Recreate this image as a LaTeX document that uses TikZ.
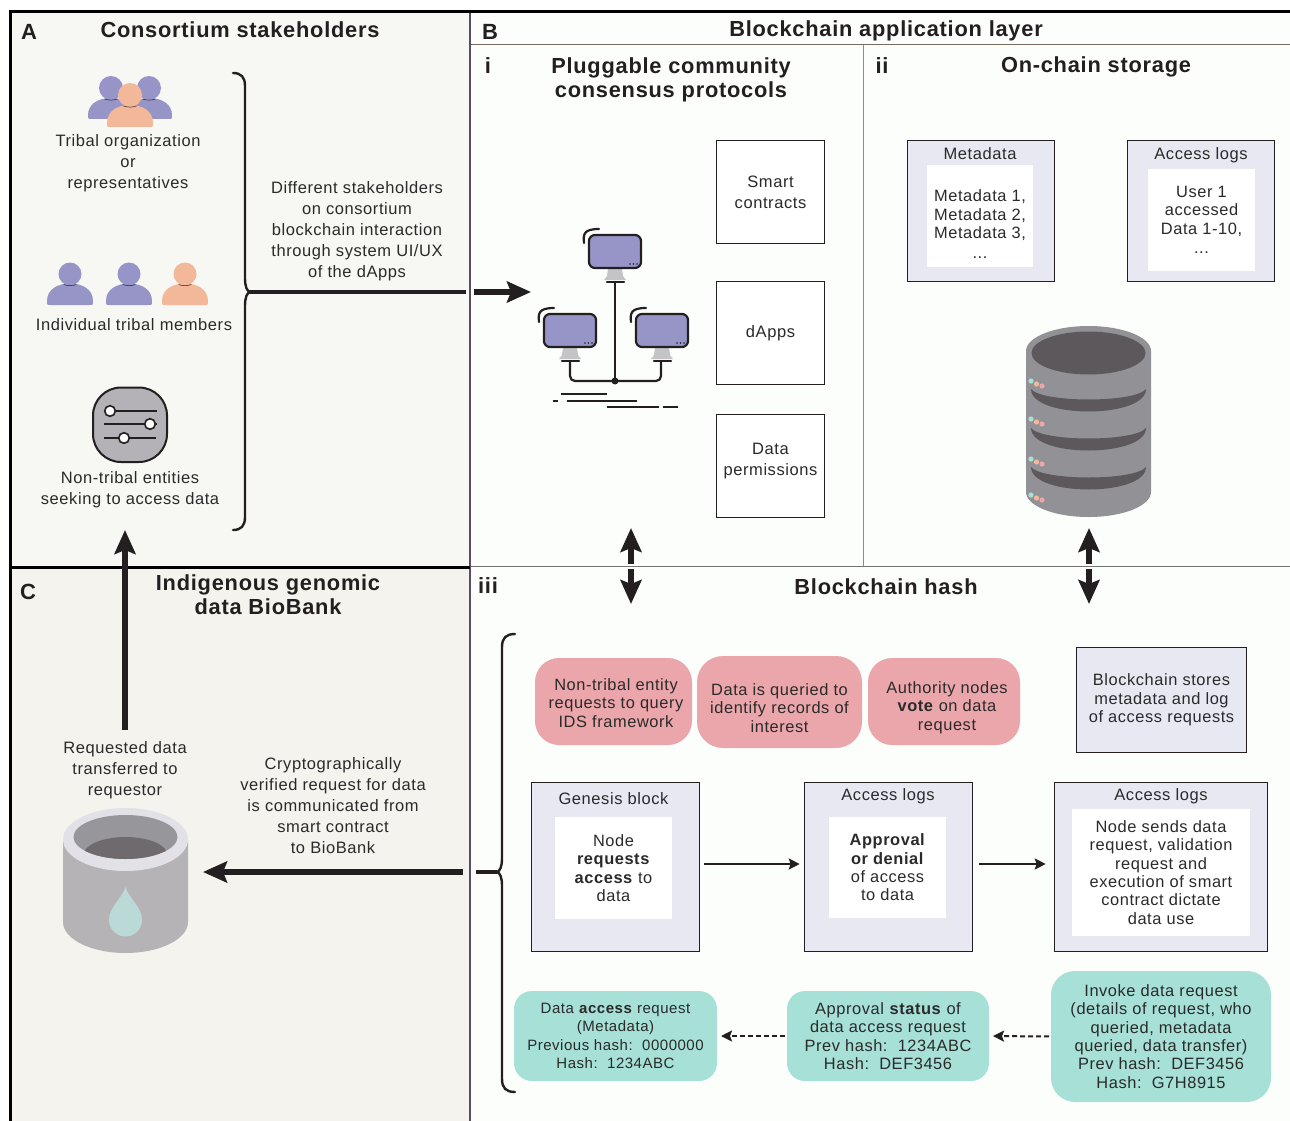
\documentclass[tikz,border=0pt]{standalone}
\usepackage{fontspec}
\setmainfont[LetterSpace=3.5]{Liberation Sans}
\usetikzlibrary{arrows.meta}
\definecolor{panelA}{HTML}{F7F7F3}
\definecolor{panelC}{HTML}{F5F3EE}
\definecolor{panelB}{HTML}{FCFEFC}
\definecolor{lav}{HTML}{E8E8F3}
\definecolor{pinkb}{HTML}{EBA6AC}
\definecolor{tealb}{HTML}{A6E0D6}
\definecolor{purp}{HTML}{9795C8}
\definecolor{orng}{HTML}{F2B899}
\definecolor{ink}{HTML}{231F20}
\definecolor{txt}{HTML}{2A2A2A}
\definecolor{dbbody}{HTML}{929196}
\definecolor{dbdark}{HTML}{5D585B}
\definecolor{sliderg}{HTML}{B4B2B7}
\definecolor{bankbody}{HTML}{B6B3B7}
\definecolor{bankrim}{HTML}{E2E1E8}
\definecolor{bankin}{HTML}{96969B}
\definecolor{bankdark}{HTML}{6F6A6E}
\definecolor{drop}{HTML}{BBD9D6}
\definecolor{standg}{HTML}{C4C3C6}
\definecolor{rulebr}{HTML}{7A6A5C}
\definecolor{divider}{HTML}{5A4E5E}
\tikzset{
  every node/.style={inner sep=0pt,outer sep=0pt,text=txt},
  body/.style={align=center,font=\fontsize{16.5}{21}\selectfont},
  tight/.style={align=center,font=\fontsize{16.4}{18.3}\selectfont},
  tightsmall/.style={align=center,font=\fontsize{15}{18.3}\selectfont},
  head/.style={align=center,font=\fontsize{21.8}{24}\selectfont\bfseries,text=ink},
  tag/.style={font=\fontsize{22}{24}\selectfont\bfseries,text=ink},
  whitebox/.style={draw=ink,line width=0.9pt,fill=white,align=center,font=\fontsize{16.5}{21}\selectfont},
  lavbox/.style={draw=ink,line width=0.9pt,fill=lav},
  inner box/.style={fill=white,tight},
  pinkpill/.style={fill=pinkb,rounded corners=24pt,tight},
  tealpill/.style={fill=tealb,rounded corners=18pt,tight},
  bigarrow/.style={line width=5.5pt,draw=ink,-{Stealth[length=24pt,width=21pt,inset=4pt]}},
  thinarrow/.style={line width=2pt,draw=ink,-{Stealth[length=11pt,width=11pt,inset=2pt]}},
  dasharrow/.style={line width=2pt,draw=ink,dash pattern=on 5pt off 3pt,-{Stealth[length=11pt,width=11pt,inset=2pt]}},
  brace/.style={line width=2.4pt,draw=ink,line cap=round},
  thick rule/.style={line width=4.5pt,draw=ink},
  mon/.style={line width=2.2pt,draw=ink,line cap=round},
}
% x head-y r half-width bottom colour
\newcommand{\personicon}[6]{%
  \fill[#6] ({#1-#4},{#5-4}) .. controls ({#1-#4},{#2+#3+4}) and ({#1-#4*0.55},{#2+#3-2}) .. (#1,{#2+#3-2})
     .. controls ({#1+#4*0.55},{#2+#3-2}) and ({#1+#4},{#2+#3+4}) .. ({#1+#4},{#5-4})
     .. controls ({#1+#4},#5) .. ({#1+#4-4},#5) -- ({#1-#4+4},#5) .. controls ({#1-#4},#5) .. cycle;
  \fill[#6] (#1,#2) circle (#3);
  \draw[ink,line width=0.5pt] ({#1-#3*0.55},{#2+#3-1}) .. controls ({#1-#3*0.2},{#2+#3+0.5}) and ({#1+#3*0.2},{#2+#3+0.5}) .. ({#1+#3*0.55},{#2+#3-1});
}
% left top
\newcommand{\monitoricon}[2]{%
  \fill[standg] ({#1+19},{#2+34}) -- ({#1+33},{#2+34}) -- ({#1+34},{#2+41}) -- ({#1+37},{#2+45}) -- ({#1+15},{#2+45}) -- ({#1+18},{#2+41}) -- cycle;
  \draw[line width=2.2pt,draw=ink,fill=purp,rounded corners=6pt] (#1,#2) rectangle ({#1+52},{#2+33});
  \draw[mon] ({#1+18},{#2+47}) -- ({#1+35},{#2+47});
  \draw[mon] ({#1-5},{#2+8}) .. controls ({#1-6},{#2-1}) and ({#1-5},{#2-6}) .. ({#1+10},{#2-6});
  \fill[ink] ({#1+41},{#2+29}) circle (0.9) ({#1+44.5},{#2+29}) circle (0.9) ({#1+48},{#2+29}) circle (0.9);
}
\newcommand{\dbdots}[1]{%
  \fill[tealb] (1031,#1) circle (2.6);
  \fill[orng] (1036.5,{#1+3}) circle (2.6);
  \fill[pinkb] (1042,{#1+5}) circle (2.6);
}
\newcommand{\dbband}[1]{%
  \fill[dbdark] (1031,#1) .. controls (1042,{#1+14}) and (1135,{#1+14}) .. (1146,#1)
     .. controls (1146,{#1+30}) and (1031,{#1+30}) .. (1031,#1) -- cycle;
}
\begin{document}
\begin{tikzpicture}[x=1pt,y=-1pt]
\useasboundingbox (0,0) rectangle (1290,1121);
\fill[white] (0,0) rectangle (1290,1121);
% panels
\fill[panelA] (10,12) rectangle (470,566);
\fill[panelC] (10,566) rectangle (470,1121);
\fill[panelB] (470,12) rectangle (1290,1121);
\draw[rulebr,line width=1pt] (470,45) -- (1290,45);
\draw[black!45,line width=0.8pt] (863,45) -- (863,566);
\draw[black!55,line width=1pt] (470,566) -- (1290,566);
\draw[divider,line width=2.5pt] (470,12) -- (470,1121);
\draw[black,line width=3pt] (10,1121) -- (10,12) -- (1290,12);
\draw[black,line width=3pt] (10,567) -- (470,567);
% titles
\node[tag] (tagA) at (29,32) {A};
\node[tag] (tagB) at (490,31.5) {B};
\node[tag] (tagC) at (28,592) {C};
\node[tag] (tagi) at (488,66) {i};
\node[tag] (tagii) at (882,66) {ii};
\node[tag] (tagiii) at (488,586) {iii};
\node[head] (tA) at (240,30) {Consortium stakeholders};
\node[head] (tB) at (886,31) {Blockchain application layer};
\node[head] (tBi) at (671,80) {Pluggable community\\consensus protocols};
\node[head] (tBii) at (1096,67) {On-chain storage};
\node[head] (tBiii) at (886,587) {Blockchain hash};
\node[head] (tC) at (268,595) {Indigenous genomic\\data BioBank};
% panel A icons
\personicon{111}{88}{12}{23}{119}{purp}
\personicon{149}{88}{12}{23}{119}{purp}
\personicon{130}{95}{12}{23}{127}{orng}
\personicon{70}{274}{11.5}{23}{305}{purp}
\personicon{129}{274}{11.5}{23}{305}{purp}
\personicon{185}{274}{11.5}{23}{305}{orng}
\node[body] (lblorg) at (128,163.5) {Tribal organization\\or\\representatives};
\node[body] (lblind) at (134,325) {Individual tribal members};
\node[body] (lblnon) at (130,489.5) {Non-tribal entities\\seeking to access data};
\node[body] (lbldiff) at (357,231.5) {Different stakeholders\\on consortium\\blockchain interaction\\through system UI/UX\\of the dApps};
% slider icon
\draw[ink,line width=2pt,fill=sliderg,rounded corners=28pt] (93,387.5) rectangle (167,462);
\draw[ink,line width=2pt] (110,411) -- (157,411) (104,424) -- (157,424) (104,438) -- (156,438);
\draw[ink,line width=1.6pt,fill=white] (110,411) circle (5.3) (150,424) circle (5.3) (124,438) circle (5.3);
% brace A
\coordinate (braceAtip) at (250,292);
\draw[brace] (233,73) .. controls (241,73) and (245,77) .. (245,86) -- (245,278) .. controls (245,287) and (247,291) .. (braceAtip)
  .. controls (247,293) and (245,297) .. (245,306) -- (245,517) .. controls (245,526) and (241,530) .. (233,530);
\coordinate (ruleAend) at (466,292);
\draw[thick rule] (braceAtip) -- (ruleAend);
\coordinate (arrAs) at (474,292);
\coordinate (arrAe) at (531,292);
\draw[bigarrow] (arrAs) -- (arrAe);
% monitors
\monitoricon{589}{235}
\monitoricon{544}{314}
\monitoricon{636}{314}
\draw[mon] (615,282) -- (615,381);
\draw[mon,rounded corners=5pt] (570,361) -- (570,381) -- (661,381) -- (661,361);
\fill[ink] (615,381) circle (3.5);
\draw[ink,line width=2pt] (561,394) -- (607,394) (553,401) -- (558,401) (567,401) -- (637,401) (607,407) -- (659,407) (663,407) -- (678,407);
% white boxes
\node[whitebox,minimum width=107.6pt,minimum height=102.6pt] (smart) at (770.5,192) {Smart\\contracts};
\node[whitebox,minimum width=107.6pt,minimum height=102.6pt] (dapps) at (770.5,332.8) {dApps};
\node[whitebox,minimum width=107.6pt,minimum height=102.6pt] (permbox) at (770.5,466) {};
\node[body] (perm) at (770.5,461) {Data\\permissions};
% on-chain
\node[lavbox,minimum width=146.6pt,minimum height=140.6pt] (meta) at (981,211) {};
\node[inner box,minimum width=106pt,minimum height=102pt] (metain) at (980,216) {};
\node[tight] (metatxt) at (980,224.5) {Metadata 1,\\Metadata 2,\\Metadata 3,\\[2pt]...};
\node[body] (metat) at (980,153.5) {Metadata};
\node[lavbox,minimum width=146.6pt,minimum height=140.6pt] (logs) at (1201,211) {};
\node[inner box,minimum width=107pt,minimum height=102pt] (logsin) at (1201.5,220) {User 1\\accessed\\Data 1-10,\\[1pt]...};
\node[body] (logst) at (1201,155.5) {Access logs};
% database
\fill[dbbody] (1026,351) -- (1026,492) arc[start angle=180,end angle=0,x radius=62.5,y radius=25] -- (1151,351) arc[start angle=0,end angle=-180,x radius=62.5,y radius=25] -- cycle;
\fill[dbdark] (1088.5,353) ellipse[x radius=57,y radius=21.5];
\dbband{389}\dbband{428}\dbband{467}
\dbdots{381}\dbdots{419}\dbdots{459}\dbdots{495}
% double arrows: two arrows apart across the rule
\coordinate (upAs) at (631,564); \coordinate (upAe) at (631,528);
\coordinate (dnAs) at (631,569); \coordinate (dnAe) at (631,604);
\coordinate (upBs) at (1089,564); \coordinate (upBe) at (1089,528);
\coordinate (dnBs) at (1089,569); \coordinate (dnBe) at (1089,604);
\draw[bigarrow] (upAs) -- (upAe);
\draw[bigarrow] (dnAs) -- (dnAe);
\draw[bigarrow] (upBs) -- (upBe);
\draw[bigarrow] (dnBs) -- (dnBe);
% iii brace
\coordinate (braceBtip) at (497,872);
\draw[brace] (515,634) .. controls (506,634) and (502,638) .. (502,647) -- (502,858) .. controls (502,867) and (500,871) .. (braceBtip)
  .. controls (500,873) and (502,877) .. (502,886) -- (502,1079) .. controls (502,1088) and (506,1092) .. (515,1092);
\coordinate (ruleBstart) at (476,872);
\draw[thick rule] (ruleBstart) -- (braceBtip);
\coordinate (arrCs) at (463,872);
\coordinate (arrCe) at (203,872);
\draw[bigarrow] (arrCs) -- (arrCe);
% pink
\node[pinkpill,minimum width=157pt,minimum height=87pt] (p1) at (613.5,701.5) {};
\node[tight] (p1t) at (616,703) {Non-tribal entity\\requests to query\\IDS framework};
\node[pinkpill,minimum width=165pt,minimum height=92pt,rounded corners=26pt] (p2) at (779.5,702) {};
\node[tight] (p2t) at (779.5,708) {Data is queried to\\identify records of\\interest};
\node[pinkpill,minimum width=152pt,minimum height=87pt] (p3) at (944,701.5) {};
\node[tight] (p3t) at (947,707.5) {Authority nodes\\\textbf{vote} on data\\request};
\node[lavbox,minimum width=169.6pt,minimum height=104.6pt,tight] (store) at (1161.5,700) {Blockchain stores\\metadata and log\\of access requests};
% blocks
\node[lavbox,minimum width=167.6pt,minimum height=168.6pt] (gen) at (615.5,867) {};
\node[inner box,minimum width=117pt,minimum height=102pt] (genin) at (613.5,868) {Node\\\textbf{requests}\\\textbf{access} to\\data};
\node[body] (gent) at (613.5,799) {Genesis block};
\node[lavbox,minimum width=167.6pt,minimum height=168.6pt] (acc) at (888.5,867) {};
\node[inner box,minimum width=117pt,minimum height=101pt] (accin) at (887.5,867.5) {\textbf{Approval}\\\textbf{or denial}\\of access\\to data};
\node[body] (acct) at (888,796.5) {Access logs};
\node[lavbox,minimum width=212.6pt,minimum height=168.6pt] (node) at (1161,867) {};
\node[inner box,minimum width=178pt,minimum height=127pt] (nodein) at (1161,872.5) {Node sends data\\request, validation\\request and\\execution of smart\\contract dictate\\data use};
\node[body] (nodet) at (1161,796.5) {Access logs};
\draw[thinarrow,shorten <=5pt,shorten >=5pt] ([yshift=3pt]gen.east) -- ([yshift=3pt]acc.west);
\draw[thinarrow,shorten <=7pt,shorten >=9pt] ([yshift=3pt]acc.east) -- ([yshift=3pt]node.west);
% teal
\node[tealpill,tightsmall,minimum width=203pt,minimum height=90pt] (t1) at (615.5,1036) {Data \textbf{access} request\\(Metadata)\\Previous hash:\ \ 0000000\\Hash:\ \ 1234ABC};
\node[tealpill,minimum width=202pt,minimum height=90pt] (t2) at (888,1036) {Approval \textbf{status} of\\data access request\\Prev hash:\ \ 1234ABC\\Hash:\ \ DEF3456};
\node[tealpill,minimum width=220pt,minimum height=131pt,rounded corners=24pt] (t3) at (1161,1036.5) {Invoke data request\\(details of request, who\\queried, metadata\\queried, data transfer)\\Prev hash:\ \ DEF3456\\Hash:\ \ G7H8915};
\draw[dasharrow,shorten <=2pt,shorten >=4pt] (t2.west) -- (t1.east);
\draw[dasharrow,shorten <=2pt,shorten >=4pt] (t3.west) -- (t2.east);
% panel C
\node[body] (lblreq) at (125,770) {Requested data\\transferred to\\requestor};
\node[body] (lblcrypto) at (333,806) {Cryptographically\\verified request for data\\is communicated from\\smart contract\\to BioBank};
\coordinate (arrUpS) at (125,730);
\coordinate (arrUpE) at (125,530);
\draw[bigarrow] (arrUpS) -- (arrUpE);
% biobank
\fill[bankbody] (63,840) -- (63,922) arc[start angle=180,end angle=0,x radius=62.5,y radius=31] -- (188,840) -- cycle;
\fill[bankrim] (125.5,839.5) ellipse[x radius=62.5,y radius=31.5];
\begin{scope}
\clip (125.5,837) ellipse[x radius=52,y radius=22];
\fill[bankin] (60,800) rectangle (190,870);
\fill[bankdark] (125.5,855) ellipse[x radius=42,y radius=18];
\end{scope}
\fill[drop] (125.5,887) .. controls (123,897) and (109,907) .. (109,920) arc[start angle=180,end angle=0,radius=16.5] .. controls (142,907) and (128,897) .. (125.5,887) -- cycle;
\end{tikzpicture}
\end{document}
